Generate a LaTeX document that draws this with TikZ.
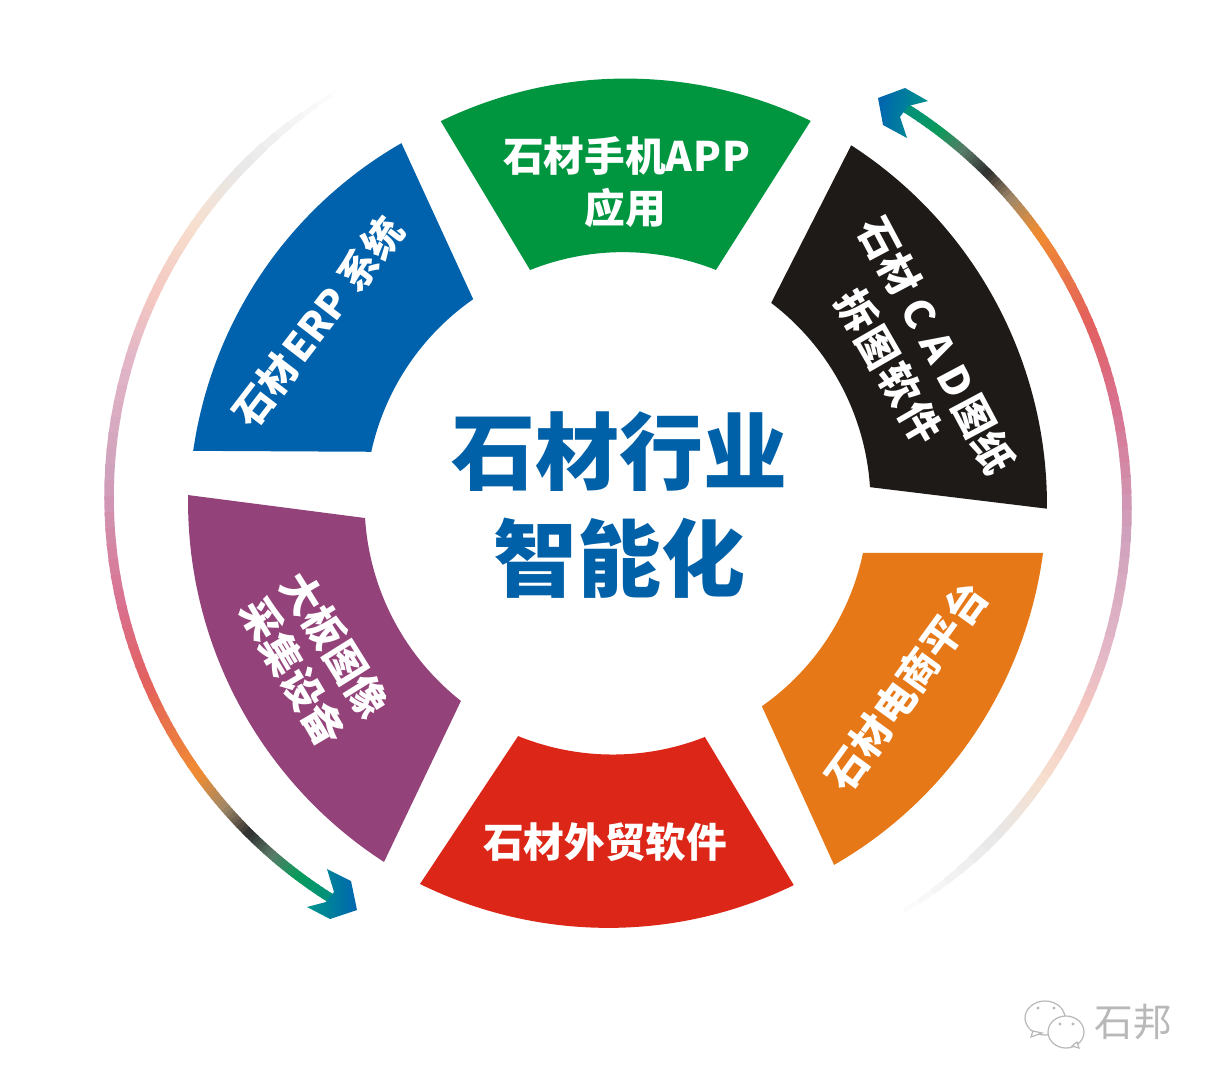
\documentclass[tikz,border=0pt]{standalone}
\usepackage{fontspec}
\setmainfont{Noto Sans CJK SC}
\definecolor{cGreen}{HTML}{009640}
\definecolor{cBlue}{HTML}{0062AC}
\definecolor{cBlack}{HTML}{1E1A18}
\definecolor{cOrange}{HTML}{E67817}
\definecolor{cRed}{HTML}{DB2618}
\definecolor{cPurple}{HTML}{94427A}
\definecolor{cTitle}{HTML}{0060A8}
\definecolor{s0}{HTML}{FFFFFF}
\definecolor{s1}{HTML}{E8E8E8}
\definecolor{s2}{HTML}{F6E0D0}
\definecolor{s3}{HTML}{F5C8C0}
\definecolor{s3b}{HTML}{E3B8C8}
\definecolor{s4}{HTML}{CF9FBB}
\definecolor{s5}{HTML}{D9708E}
\definecolor{s6}{HTML}{E3605E}
\definecolor{s7}{HTML}{F08C30}
\definecolor{s7b}{HTML}{A08868}
\definecolor{s8}{HTML}{2E2E2E}
\definecolor{s8b}{HTML}{5A7A68}
\definecolor{s9}{HTML}{0A9A5A}
\definecolor{s10}{HTML}{009080}
\definecolor{cTipA}{HTML}{0066B0}
\definecolor{cTipB}{HTML}{00958A}
\definecolor{cMark}{HTML}{B8B8B8}
\newcommand\sectorshape[9]{%
  \fill[#1] plot[domain=0:1,samples=60] ({618+(#3+(#5-#3)*\x)*cos(#2+(#4-#2)*\x)},{503+(#3+(#5-#3)*\x)*sin(#2+(#4-#2)*\x)})
    -- plot[domain=0:1,samples=60] ({618+(#7+(#9-#7)*\x)*cos(#6+(#8-#6)*\x)},{503+(#7+(#9-#7)*\x)*sin(#6+(#8-#6)*\x)}) -- cycle;}
\newcommand\gradarc[3]{%
  \foreach \aa/\bb/\ca/\cb in {60/43.6/s0/s1,43.6/35.3/s1/s2,35.3/25.2/s2/s3,25.2/17.5/s3/s3b,17.5/2/s3b/s4,2/-13.3/s4/s5,-13.3/-23.2/s5/s6,-23.2/-35.7/s6/s7,-35.7/-41/s7/s7b,-41/-45.2/s7b/s8,-45.2/-49/s8/s8b,-49/-53/s8b/s9,-53/-58.2/s9/s10}{%
    \foreach \i in {0,...,7}{%
      \pgfmathsetmacro\pa{\aa+(\bb-\aa)*\i/8}%
      \pgfmathsetmacro\pb{\aa+(\bb-\aa)*(\i+1.2)/8}%
      \pgfmathsetmacro\mixv{(\i+.5)*12.5}%
      \pgfmathsetmacro\wid{min(9.5,3+(60-\pa)*0.5)*0.75}%
      \draw[line width=\wid pt,color=\cb!\mixv!\ca] ({#1+474*cos(#3+\pa)},{#2+474*sin(#3+\pa)}) -- ({#1+474*cos(#3+\pb)},{#2+474*sin(#3+\pb)});
    }}}
\tikzset{
  lab/.style={text=white,font=\bfseries\fontsize{30.5pt}{38pt}\selectfont,align=center,inner sep=0pt},
  labs/.style={lab,font=\bfseries\fontsize{29.5pt}{38pt}\selectfont},
  ttl/.style={text=cTitle,font=\bfseries\fontsize{63pt}{70pt}\selectfont,inner sep=0pt},
  bub/.style={draw=cMark,line width=0.9pt,fill=white},
  eye/.style={fill=cMark}
}
\begin{document}
\begin{tikzpicture}[x=0.75pt,y=-0.75pt]
\useasboundingbox (0,0) rectangle (1212,1084);
\fill[white] (0,0) rectangle (1212,1084);
\gradarc{653}{509}{0}
\gradarc{583}{497}{180}
\shade[left color=cTipA,right color=cTipB,shading angle=80]
  (878,98) -- (905,88) -- (928,101) -- (908,106) -- (900,117) -- (907,138) -- (883,125) -- cycle;
\shade[left color=cTipB,right color=cTipA,shading angle=90]
  (327,869) -- (351,881) -- (357,910) -- (330,919) -- (307,907) -- (326,902) -- (334,892) -- cycle;
\sectorshape{cGreen}{-114.9}{421}{-63.2}{428}{-67.2}{252.8}{-110.7}{249}
\sectorshape{cBlack}{-56.9}{427}{0.8}{429}{-3.6}{252.5}{-52.6}{252}
\sectorshape{cOrange}{6.7}{428}{59.2}{421.5}{54.7}{249}{11.5}{250}
\sectorshape{cRed}{65.3}{420.6}{117.5}{429.4}{113.2}{253.6}{69.6}{249.6}
\sectorshape{cPurple}{123.1}{428.5}{181.1}{430}{176.6}{253.4}{128.4}{252.7}
\sectorshape{cBlue}{187}{428}{239}{420}{234.6}{250}{191.7}{252}
\node[ttl] (t1) at (619,452) {石材行业};
\node[ttl] (t2) at (619,558) {智能化};
\node[lab] (green1) at (627,156) {石材手机A\hspace{.03em}P\hspace{.03em}P};
\node[lab] (green2) at (625,208) {应用};
\node[lab,rotate=-62] (black1) at (937,345) {石材\hspace{.25em}C\hspace{.3em}A\hspace{.25em}D\hspace{.1em}图纸};
\node[lab,rotate=-60] (black2) at (889,366) {拆\hspace{.06em}图\hspace{.06em}软\hspace{.06em}件};
\node[lab,rotate=54] (orange1) at (906,686) {石材电商平台};
\node[lab] (red1) at (605,842) {石材外贸软件};
\node[lab,rotate=-58] (purple1) at (335,645) {大板图像};
\node[lab,rotate=-59.5] (purple2) at (293,672) {采集设备};
\node[labs,rotate=52.5] (blue1) at (318,322) {石材\hspace{.1em}ERP\hspace{.25em}系统};
% watermark
\draw[bub] (1045,1018) ellipse (20 and 17);
\fill[bub] (1033,1031) -- (1031,1037) -- (1042,1033) -- cycle;
\draw[bub] (1066,1032) ellipse (18 and 16);
\fill[bub] (1072,1046) -- (1079,1048) -- (1077,1042) -- cycle;
\fill[eye] (1038,1008) circle (1.6) (1054,1008) circle (1.6) (1060,1024) circle (1.6) (1073,1024) circle (1.6);
\node[text=cMark,font=\fontsize{29pt}{32pt}\selectfont,inner sep=0pt] (mark) at (1133,1022) {石邦};
\end{tikzpicture}
\end{document}
